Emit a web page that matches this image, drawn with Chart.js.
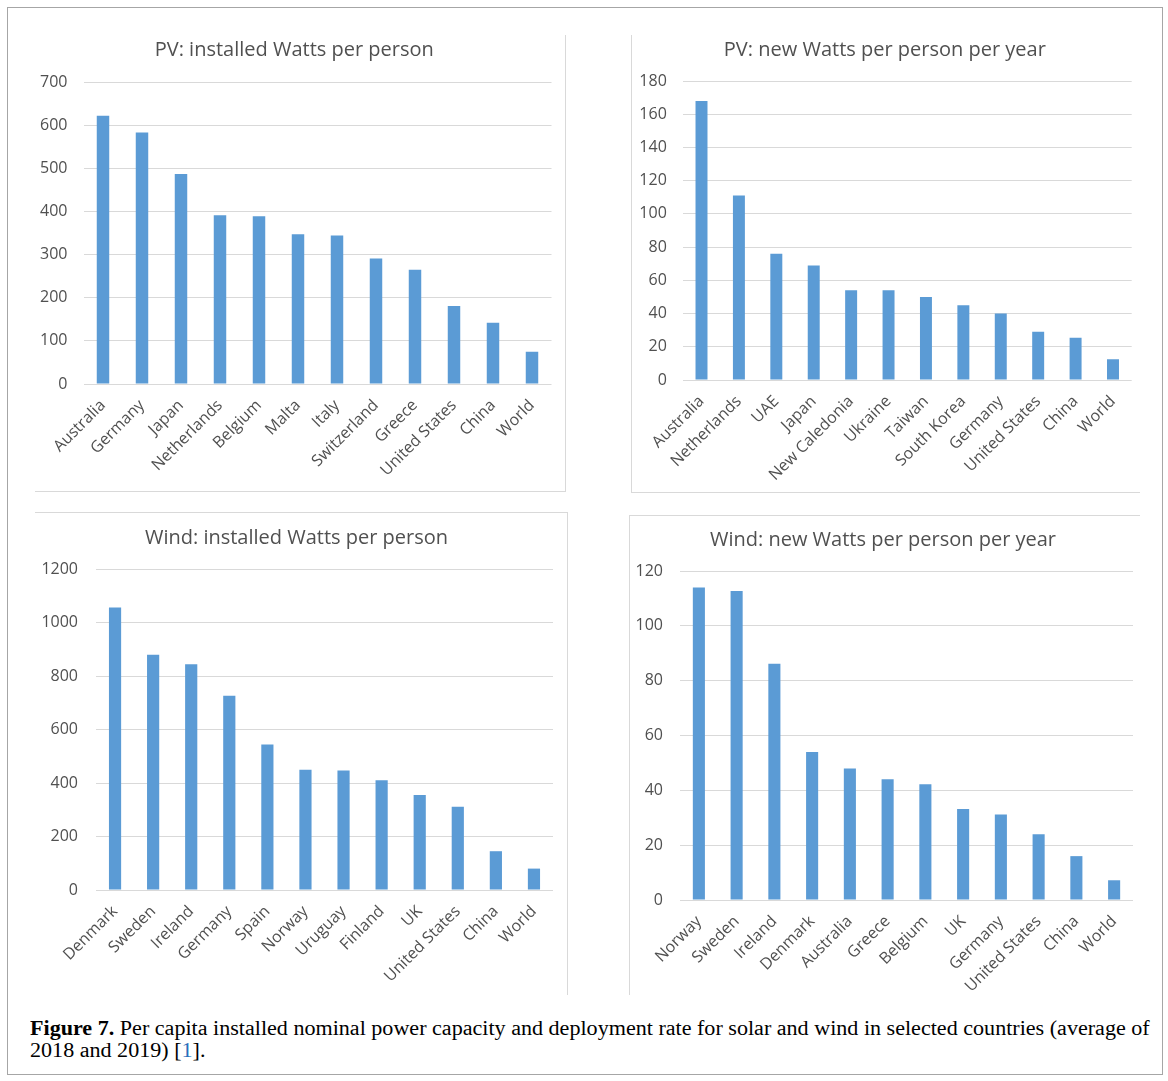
<!DOCTYPE html>
<html>
<head>
<title>Figure 7</title>
<script src="https://cdn.jsdelivr.net/npm/chart.js"></script>
<style>
    body { margin: 0; background: #fff; }
    .page { position: relative; width: 1168px; height: 1081px; overflow: hidden; }
    .frame { position: absolute; left: 7px; top: 7px; width: 1154px; height: 1066px; border: 1px solid #a6a6a6; }
    .line { position: absolute; background: #d9d9d9; }
    canvas { position: absolute; }
    .caption { position: absolute; left: 30px; top: 1017px; font-family: 'Liberation Serif', serif; font-size: 20px; line-height: 22px; color: #000; transform-origin: 0 0; }
    .caption span.ln { display: inline-block; white-space: nowrap; }
    .ref { color: #2a6ebb; }
</style>
</head>
<body>
<div class="page">
    <div class="frame"></div>

    <!-- light box edges left over from the cropped excel charts -->
    <div class="line" style="left:565px; top:35px; width:1px; height:456px;"></div>
    <div class="line" style="left:35px; top:491px; width:531px; height:1px;"></div>
    <div class="line" style="left:631px; top:35px; width:1px; height:457px;"></div>
    <div class="line" style="left:631px; top:492px; width:509px; height:1px;"></div>
    <div class="line" style="left:35px; top:512px; width:533px; height:1px;"></div>
    <div class="line" style="left:567px; top:512px; width:1px; height:483px;"></div>
    <div class="line" style="left:629px; top:515px; width:511px; height:1px;"></div>
    <div class="line" style="left:629px; top:515px; width:1px; height:480px;"></div>

    <canvas id="pvInstalled"></canvas>
    <canvas id="pvNew"></canvas>
    <canvas id="windInstalled"></canvas>
    <canvas id="windNew"></canvas>

    <div class="caption" id="caption">
        <span class="ln" id="capLine1"><b>Figure 7.</b> Per capita installed nominal power capacity and deployment rate for solar and wind in selected countries (average of</span><br>
        <span class="ln">2018 and 2019) [<span class="ref">1</span>].</span>
    </div>
</div>

<script>
    // data
    const pvInstalledLabels = ['Australia', 'Germany', 'Japan', 'Netherlands', 'Belgium', 'Malta', 'Italy', 'Switzerland', 'Greece', 'United States', 'China', 'World'];
    const pvInstalledValues = [622, 583, 487, 391, 389, 347, 344, 291, 265, 181, 142, 75];
    const pvInstalledMax = 700, pvInstalledStep = 100;

    const pvNewLabels = ['Australia', 'Netherlands', 'UAE', 'Japan', 'New Caledonia', 'Ukraine', 'Taiwan', 'South Korea', 'Germany', 'United States', 'China', 'World'];
    const pvNewValues = [168, 111, 76, 69, 54, 54, 50, 45, 40, 29, 25.5, 12.5];
    const pvNewMax = 180, pvNewStep = 20;

    const windInstalledLabels = ['Denmark', 'Sweden', 'Ireland', 'Germany', 'Spain', 'Norway', 'Uruguay', 'Finland', 'UK', 'United States', 'China', 'World'];
    const windInstalledValues = [1056, 879, 844, 726, 544, 450, 447, 410, 355, 311, 145, 80];
    const windInstalledMax = 1200, windInstalledStep = 200;

    const windNewLabels = ['Norway', 'Sweden', 'Ireland', 'Denmark', 'Australia', 'Greece', 'Belgium', 'UK', 'Germany', 'United States', 'China', 'World'];
    const windNewValues = [114, 112.7, 86.2, 54, 48, 44, 42.2, 33.2, 31.2, 24, 16, 7.2];
    const windNewMax = 120, windNewStep = 20;

    const textColor = '#505050';
    const barColor = '#5b9bd5';
    Chart.defaults.font.family = "'Open Sans', sans-serif";

    // box = canvas placement on the page, plot = wanted chart area,
    // yLeft = left edge of the y scale (labels are clipped to it)
    function makeChart(id, box, plot, title, labels, values, yMax, yStep, yPad) {
        const cv = document.getElementById(id);
        cv.width = box.w;
        cv.height = box.h;
        cv.style.left = box.x + 'px';
        cv.style.top = box.y + 'px';

        const titleSize = 20, titleLine = 1.2;
        const titleTop = plot.ty - box.y - titleSize * titleLine / 2;
        const titleBottom = plot.t - box.y - titleTop - titleSize * titleLine;
        const padLeft = plot.yLeft - box.x;

        new Chart(cv, {
            type: 'bar',
            data: {
                labels: labels,
                datasets: [{
                    data: values,
                    backgroundColor: barColor,
                    barPercentage: 0.32,
                    categoryPercentage: 1
                }]
            },
            options: {
                responsive: false,
                animation: false,
                layout: { padding: { left: padLeft, top: 0, right: box.x + box.w - plot.r, bottom: 0 } },
                plugins: {
                    legend: { display: false },
                    tooltip: { enabled: false },
                    title: {
                        display: true,
                        text: title,
                        color: textColor,
                        font: { size: titleSize, weight: 'normal', lineHeight: titleLine },
                        padding: { top: titleTop, bottom: titleBottom }
                    }
                },
                scales: {
                    x: {
                        grid: { display: false },
                        border: { display: false },
                        ticks: { color: textColor, font: { size: 16 }, minRotation: 45, maxRotation: 45, autoSkip: false, padding: 4 },
                        afterFit: s => { s.height = box.y + box.h - plot.b; }
                    },
                    y: {
                        min: 0,
                        max: yMax,
                        grid: { color: '#d9d9d9', drawTicks: false },
                        border: { display: false },
                        ticks: { stepSize: yStep, color: textColor, font: { size: 16 }, padding: yPad, callback: v => String(v) },
                        afterFit: s => { s.width = plot.l - plot.yLeft; }
                    }
                }
            }
        });
    }

    makeChart('pvInstalled',
        { x: 35, y: 20, w: 530, h: 471 },
        { l: 83.5, t: 82, r: 551.5, b: 384, yLeft: 37, ty: 50 },
        'PV: installed Watts per person',
        pvInstalledLabels, pvInstalledValues, pvInstalledMax, pvInstalledStep, 16);

    makeChart('pvNew',
        { x: 631, y: 20, w: 509, h: 472 },
        { l: 682.8, t: 81, r: 1131.7, b: 380, yLeft: 638, ty: 50 },
        'PV: new Watts per person per year',
        pvNewLabels, pvNewValues, pvNewMax, pvNewStep, 16);

    makeChart('windInstalled',
        { x: 35, y: 512, w: 532, h: 483 },
        { l: 96, t: 569, r: 553, b: 890, yLeft: 40, ty: 538 },
        'Wind: installed Watts per person',
        windInstalledLabels, windInstalledValues, windInstalledMax, windInstalledStep, 18);

    makeChart('windNew',
        { x: 629, y: 515, w: 511, h: 480 },
        { l: 680, t: 571, r: 1133, b: 900, yLeft: 633, ty: 540 },
        'Wind: new Watts per person per year',
        windNewLabels, windNewValues, windNewMax, windNewStep, 17);

    // stretch the caption so its first line runs to the right edge like the figure
    const cap = document.getElementById('caption');
    const w1 = document.getElementById('capLine1').offsetWidth;
    cap.style.transform = 'scaleX(' + (1120 / w1) + ')';
</script>
</body>
</html>
